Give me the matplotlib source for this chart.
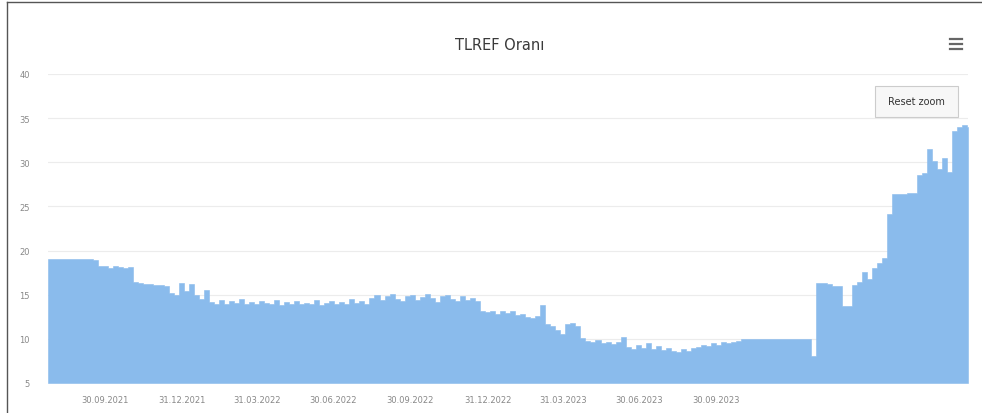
import matplotlib
matplotlib.use("Agg")
import matplotlib.pyplot as plt
import matplotlib.dates as mdates
from matplotlib.patches import Rectangle
from matplotlib.lines import Line2D
import pandas as pd

# TLREF rate, one reading roughly every 6 days
rate = [
    19.0, 19.1, 19.0, 19.0, 19.1, 19.1, 19.0, 19.1, 19.0, 18.9,
    18.3, 18.2, 18.0, 18.2, 18.1, 18.0, 18.1,
    16.4, 16.3, 16.2, 16.2, 16.1, 16.1, 16.0,
    15.2, 15.0, 16.3, 15.4, 16.2, 15.0,
    14.5, 15.5, 14.2,
    14.0, 14.4, 13.9, 14.3, 14.1, 14.5, 14.0, 14.2, 13.9, 14.3,
    14.1, 14.0, 14.4, 13.8, 14.2, 14.0, 14.3, 13.9, 14.1, 14.0,
    14.4, 13.8, 14.1, 14.3, 13.9, 14.2, 14.0, 14.5, 14.1, 14.3,
    14.0, 14.6,
    15.0, 14.4, 14.8, 15.1, 14.5, 14.3, 14.9, 15.0, 14.4, 14.7,
    15.1, 14.6, 14.2, 14.8, 15.0, 14.5, 14.3, 14.9, 14.4, 14.6, 14.3,
    13.1, 13.0, 13.2, 12.8, 13.1, 12.9, 13.2, 12.7, 12.8, 12.5, 12.4, 12.6,
    13.8, 11.7, 11.5, 11.0, 10.6, 11.7, 11.8, 11.5, 10.1,
    9.8, 9.6, 9.9, 9.5, 9.7, 9.4, 9.6, 10.2,
    9.1, 8.8, 9.3, 9.0, 9.5, 8.9, 9.2, 8.7, 9.0, 8.6, 8.5, 8.8, 8.6, 9.0, 9.1, 9.3,
    9.2, 9.5, 9.3, 9.6, 9.5, 9.7, 9.8, 10.0,
    10.0, 10.0, 10.0, 10.0, 10.0, 10.0, 10.0, 10.0, 10.0, 10.0, 10.0, 10.0,
    10.0, 8.1,
    16.3, 16.3, 16.2, 16.0, 16.0, 13.7, 13.7, 16.1, 16.4, 17.6, 16.8, 18.0,
    18.6, 19.2, 24.1, 26.4, 26.4, 26.4, 26.5, 26.5, 28.6, 28.8, 31.5, 30.2,
    29.2, 30.5, 28.9, 33.5, 34.0, 34.2, 34.0,
]
dates = pd.date_range("2021-07-24", periods=len(rate), freq="6D")

tick_dates = ["2021-09-30", "2021-12-31", "2022-03-31", "2022-06-30", "2022-09-30",
              "2022-12-31", "2023-03-31", "2023-06-30", "2023-09-30"]
tick_labels = ["30.09.2021", "31.12.2021", "31.03.2022", "30.06.2022", "30.09.2022",
               "31.12.2022", "31.03.2023", "30.06.2023", "30.09.2023"]

plt.rcParams['font.family'] = ['Liberation Sans Narrow', 'DejaVu Sans']

W, H = 982, 414
fig = plt.figure(figsize=(W / 100, H / 100), dpi=100)
ax = fig.add_axes([48 / W, (H - 384) / H, 920 / W, (384 - 75) / H])

x = list(dates) + [pd.Timestamp("2024-07-27")]
y = rate + [rate[-1]]
xn = mdates.date2num(x)

ax.set_xlim(xn[0], xn[-1])
ax.set_ylim(5, 40)

ax.fill_between(xn, y, 5, step="post", facecolor="#8abbec",
                edgecolor="#8abbec", lw=0.4, zorder=2)

ax.set_yticks([5, 10, 15, 20, 25, 30, 35, 40])
ax.grid(axis="y", color="#ececec", lw=0.8, zorder=0)
ax.set_axisbelow(True)
ax.set_xticks(mdates.date2num(pd.to_datetime(tick_dates)))
ax.set_xticklabels(tick_labels)
ax.tick_params(axis="both", length=0, labelsize=6, colors="#888888")
ax.tick_params(axis="y", pad=13)
ax.tick_params(axis="x", pad=9)
for s in ax.spines.values():
    s.set_visible(False)

fig.text(500 / W, 1 - 45 / H, "TLREF Oranı", ha="center", va="center",
         fontsize=10.5, color="#3a3a3a")

# menu icon
for yy in (40, 45, 50):
    fig.add_artist(Line2D([950 / W, 962 / W], [1 - yy / H, 1 - yy / H],
                          color="#666666", lw=1.6))

# reset zoom button
fig.add_artist(Rectangle((875 / W, 1 - 118 / H), 83 / W, 31 / H,
                         facecolor="#f7f7f7", edgecolor="#cccccc", lw=0.8))
fig.text(916 / W, 1 - 102 / H, "Reset zoom", ha="center", va="center",
         fontsize=7, color="#333333")

# chart border
fig.add_artist(Line2D([7 / W, 7 / W], [0, 1 - 3 / H], color="#555555", lw=1))
fig.add_artist(Line2D([7 / W, 1], [1 - 3 / H, 1 - 3 / H], color="#555555", lw=1))

fig.savefig("out.png", dpi=100)
